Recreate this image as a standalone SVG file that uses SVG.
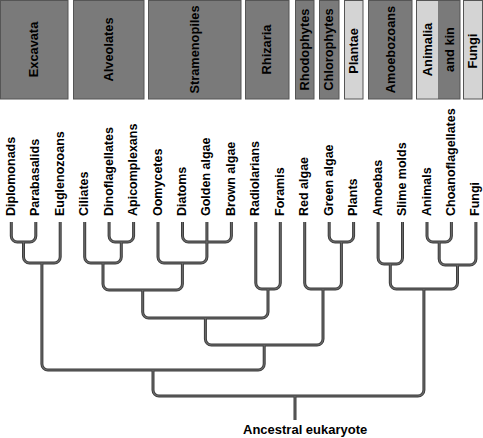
<svg xmlns="http://www.w3.org/2000/svg" xmlns:xlink="http://www.w3.org/1999/xlink" width="483" height="438" viewBox="0 0 483 438">
<style>
text{font-family:"Liberation Sans",Arial,sans-serif;font-weight:bold;fill:#000}
.h{font-size:12.8px;text-anchor:middle}
.l{font-size:12.5px}
.dk{fill:#7a7a7a;stroke:#555;stroke-width:1}
.lt{fill:#d4d4d4;stroke:#555;stroke-width:1}
.outer{stroke:#3b3b3b;stroke-width:3;fill:none}
.inner{stroke:#6a6a6a;stroke-width:1.1;fill:none}
</style>
<defs>
<g id="tree">
<path d="M11.3 222V236A6 6 0 0 0 17.3 242H29.8A6 6 0 0 0 35.8 236V222"/>
<path d="M23.5 242V257A6 6 0 0 0 29.5 263H54.2A6 6 0 0 0 60.2 257V222"/>
<path d="M109.1 222V236A6 6 0 0 0 115.1 242H127.6A6 6 0 0 0 133.6 236V222"/>
<path d="M84.7 222V257A6 6 0 0 0 90.7 263H115.3A6 6 0 0 0 121.3 257V242"/>
<path d="M182.5 222V236A6 6 0 0 0 188.5 242H225.4A6 6 0 0 0 231.4 236V222"/>
<path d="M158 222V257A6 6 0 0 0 164 263H200.9A6 6 0 0 0 206.9 257V222"/>
<path d="M103 263V284A6 6 0 0 0 109 290H176.4A6 6 0 0 0 182.4 284V263"/>
<path d="M255.8 222V283A6 6 0 0 0 261.8 289H274.3A6 6 0 0 0 280.3 283V222"/>
<path d="M142.7 290V312A6 6 0 0 0 148.7 318H262A6 6 0 0 0 268 312V289"/>
<path d="M329.2 222V236A6 6 0 0 0 335.2 242H347.6A6 6 0 0 0 353.6 236V222"/>
<path d="M304.7 222V283A6 6 0 0 0 310.7 289H335.4A6 6 0 0 0 341.4 283V242"/>
<path d="M205.4 318V339A6 6 0 0 0 211.4 345H317A6 6 0 0 0 323 339V289"/>
<path d="M41.9 263V364A6 6 0 0 0 47.9 370H258.2A6 6 0 0 0 264.2 364V345"/>
<path d="M378.1 222V258A6 6 0 0 0 384.1 264H396.5A6 6 0 0 0 402.5 258V222"/>
<path d="M427 222V236A6 6 0 0 0 433 242H445.4A6 6 0 0 0 451.4 236V222"/>
<path d="M439.2 242V259A6 6 0 0 0 445.2 265H469.9A6 6 0 0 0 475.9 259V222"/>
<path d="M390.3 264V283A6 6 0 0 0 396.3 289H451.5A6 6 0 0 0 457.5 283V265"/>
<path d="M153 370V390A6 6 0 0 0 159 396H417.9A6 6 0 0 0 423.9 390V289"/>
<path d="M295 396V420"/>
</g>
</defs>

<g id="headers">
<g id="h-excavata"><rect class="dk" x="0.5" y="0.5" width="67.5" height="98.5"/><text class="h" transform="translate(37.5,49.5) rotate(-90)">Excavata</text></g>
<g id="h-alveolates"><rect class="dk" x="73.5" y="0.5" width="70.5" height="98.5"/><text class="h" transform="translate(113,49.5) rotate(-90)">Alveolates</text></g>
<g id="h-stramenopiles"><rect class="dk" x="148.5" y="0.5" width="92.5" height="98.5"/><text class="h" transform="translate(199,49.5) rotate(-90)">Stramenopiles</text></g>
<g id="h-rhizaria"><rect class="dk" x="245.5" y="0.5" width="43.5" height="98.5"/><text class="h" transform="translate(271,49.5) rotate(-90)">Rhizaria</text></g>
<g id="h-rhodophytes"><rect class="dk" x="295.5" y="0.5" width="18.5" height="98.5"/><text class="h" transform="translate(308.8,49.5) rotate(-90)">Rhodophytes</text></g>
<g id="h-chlorophytes"><rect class="dk" x="319.5" y="0.5" width="19.5" height="98.5"/><text class="h" transform="translate(333.3,49.5) rotate(-90)">Chlorophytes</text></g>
<g id="h-plantae"><rect class="lt" x="344.5" y="0.5" width="18.5" height="98.5"/><text class="h" transform="translate(358,51) rotate(-90)">Plantae</text></g>
<g id="h-amoebozoans"><rect class="dk" x="368.5" y="0.5" width="43.5" height="98.5"/><text class="h" transform="translate(394.5,49.5) rotate(-90)">Amoebozoans</text></g>
<g id="h-animalia"><rect class="dk" x="416.5" y="0.5" width="43.5" height="98.5"/><rect x="417" y="1" width="21" height="97.5" fill="#d4d4d4"/><text class="h" transform="translate(431.5,49.5) rotate(-90)">Animalia</text><text class="h" transform="translate(453.5,49.5) rotate(-90)">and kin</text></g>
<g id="h-fungi"><rect class="lt" x="463.5" y="0.5" width="19" height="98.5"/><text class="h" transform="translate(476.5,51) rotate(-90)">Fungi</text></g>
</g>

<g id="connectors">
<use xlink:href="#tree" href="#tree" class="outer"/>
<use xlink:href="#tree" href="#tree" class="inner"/>
</g>

<g id="leaves">
<g id="n-diplomonads"><text class="l" transform="translate(14.8,216) rotate(-90)">Diplomonads</text></g>
<g id="n-parabasalids"><text class="l" transform="translate(39.3,216) rotate(-90)">Parabasalids</text></g>
<g id="n-euglenozoans"><text class="l" transform="translate(63.7,216) rotate(-90)">Euglenozoans</text></g>
<g id="n-ciliates"><text class="l" transform="translate(88.2,216) rotate(-90)">Ciliates</text></g>
<g id="n-dinoflagellates"><text class="l" transform="translate(112.6,216) rotate(-90)">Dinoflagellates</text></g>
<g id="n-apicomplexans"><text class="l" transform="translate(137.1,216) rotate(-90)">Apicomplexans</text></g>
<g id="n-oomycetes"><text class="l" transform="translate(161.5,216) rotate(-90)">Oomycetes</text></g>
<g id="n-diatoms"><text class="l" transform="translate(186,216) rotate(-90)">Diatoms</text></g>
<g id="n-golden"><text class="l" transform="translate(210.4,216) rotate(-90)">Golden algae</text></g>
<g id="n-brown"><text class="l" transform="translate(234.9,216) rotate(-90)">Brown algae</text></g>
<g id="n-radiolarians"><text class="l" transform="translate(259.3,216) rotate(-90)">Radiolarians</text></g>
<g id="n-foramis"><text class="l" transform="translate(283.8,216) rotate(-90)">Foramis</text></g>
<g id="n-red"><text class="l" transform="translate(308.2,216) rotate(-90)">Red algae</text></g>
<g id="n-green"><text class="l" transform="translate(332.7,216) rotate(-90)">Green algae</text></g>
<g id="n-plants"><text class="l" transform="translate(357.1,216) rotate(-90)">Plants</text></g>
<g id="n-amoebas"><text class="l" transform="translate(381.6,216) rotate(-90)">Amoebas</text></g>
<g id="n-slime"><text class="l" transform="translate(406,216) rotate(-90)">Slime molds</text></g>
<g id="n-animals"><text class="l" transform="translate(430.5,216) rotate(-90)">Animals</text></g>
<g id="n-choano"><text class="l" transform="translate(454.9,216) rotate(-90)">Choanoflagellates</text></g>
<g id="n-fungi"><text class="l" transform="translate(479.4,216) rotate(-90)">Fungi</text></g>
</g>

<g id="n-root"><text x="243" y="434" style="font-size:13px">Ancestral eukaryote</text></g>
</svg>
